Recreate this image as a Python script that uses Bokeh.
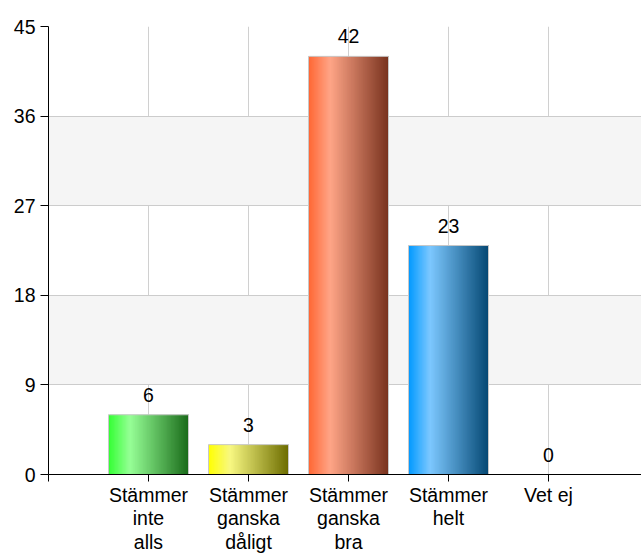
from bokeh.plotting import figure
from bokeh.models import Range1d, FixedTicker, ColumnDataSource
from bokeh.core.properties import value
from bokeh.embed import file_html
from bokeh.resources import INLINE

categories = ["Stämmer inte alls", "Stämmer ganska dåligt", "Stämmer ganska bra", "Stämmer helt", "Vet ej"]
tick_labels = ["Stämmer\ninte\nalls", "Stämmer\nganska\ndåligt", "Stämmer\nganska\nbra", "Stämmer\nhelt", "Vet ej"]
values = [6, 3, 42, 23, 0]
y_ticks = [0, 9, 18, 27, 36, 45]

# gradient stops per bar: (base/left, light highlight, dark right)
bar_gradients = [
    ((51, 255, 51), (150, 255, 150), (26, 107, 26)),
    ((255, 255, 0), (248, 248, 130), (108, 108, 0)),
    ((255, 102, 51), (255, 165, 135), (120, 50, 30)),
    ((0, 153, 255), (125, 200, 255), (5, 72, 115)),
    ((200, 200, 200), (230, 230, 230), (100, 100, 100)),
]

FONT = "Liberation Sans"
BAR_W = 0.8
N = 60
LIGHT_POS = 0.27


def lerp(a, b, t):
    return tuple(int(round(a[k] + (b[k] - a[k]) * t)) for k in range(3))


def grad_color(stops, t):
    c0, c1, c2 = stops
    if t <= LIGHT_POS:
        c = lerp(c0, c1, t / LIGHT_POS)
    else:
        c = lerp(c1, c2, (t - LIGHT_POS) / (1 - LIGHT_POS))
    return "#%02x%02x%02x" % c


xs = [i + 1 for i in range(len(categories))]

p = figure(width=641, height=556, output_backend="svg", toolbar_location=None,
           x_range=Range1d(0, 5.93), y_range=Range1d(0, 45),
           min_border_left=48, min_border_right=0, min_border_top=26, min_border_bottom=82)
p.outline_line_color = None
p.background_fill_color = "white"

# gradient strips (overlapping to hide seams)
left, right, top, bottom, colors = [], [], [], [], []
for x, v, stops in zip(xs, values, bar_gradients):
    if v <= 0:
        continue
    x0 = x - BAR_W / 2
    w = BAR_W / N
    for k in range(N):
        left.append(x0 + k * w)
        right.append(min(x0 + (k + 2) * w, x0 + BAR_W))
        top.append(v)
        bottom.append(0)
        colors.append(grad_color(stops, (k + 0.5) / N))
p.quad(left=left, right=right, top=top, bottom=bottom, fill_color=colors, line_color=None)

# bar outlines
src = ColumnDataSource(dict(x=xs, v=values, lab=[str(v) for v in values]))
p.vbar(x="x", top="v", width=BAR_W, source=src, fill_color=None,
       line_color="#c8c8c8", line_width=1)

# value labels
p.text(x="x", y="v", text="lab", source=src, text_align="center", text_baseline="alphabetic",
       y_offset=-20, text_font=value(FONT), text_font_size="19.5px", text_color="black")

# axes
p.xaxis.ticker = FixedTicker(ticks=[0] + xs)
p.xaxis.major_label_overrides = {0: ""} | {x: lab for x, lab in zip(xs, tick_labels)}
p.xaxis.minor_tick_line_color = None
p.xaxis.major_tick_out = 7
p.xaxis.major_tick_in = 0
p.xaxis.axis_line_color = "black"
p.xaxis.major_tick_line_color = "black"
p.xaxis.major_label_text_font = FONT
p.xaxis.major_label_text_font_size = "19.5px"
p.xaxis.major_label_text_color = "black"
p.xaxis.major_label_text_line_height = 1.08
p.xaxis.major_label_standoff = 2

p.yaxis.ticker = FixedTicker(ticks=y_ticks)
p.yaxis.minor_tick_line_color = None
p.yaxis.major_tick_out = 8
p.yaxis.major_tick_in = 0
p.yaxis.axis_line_color = "black"
p.yaxis.major_tick_line_color = "black"
p.yaxis.major_label_text_font = FONT
p.yaxis.major_label_text_font_size = "19.5px"
p.yaxis.major_label_text_color = "black"
p.yaxis.major_label_standoff = 5

# grids
p.xgrid.ticker = FixedTicker(ticks=xs)
p.xgrid.grid_line_color = "#d0d0d0"
p.ygrid.ticker = FixedTicker(ticks=y_ticks)
p.ygrid.grid_line_color = "#cccccc"
p.ygrid.band_fill_color = "#f5f5f5"
p.ygrid.band_fill_alpha = 1.0

open("out.html", "w").write(file_html(p, INLINE))
